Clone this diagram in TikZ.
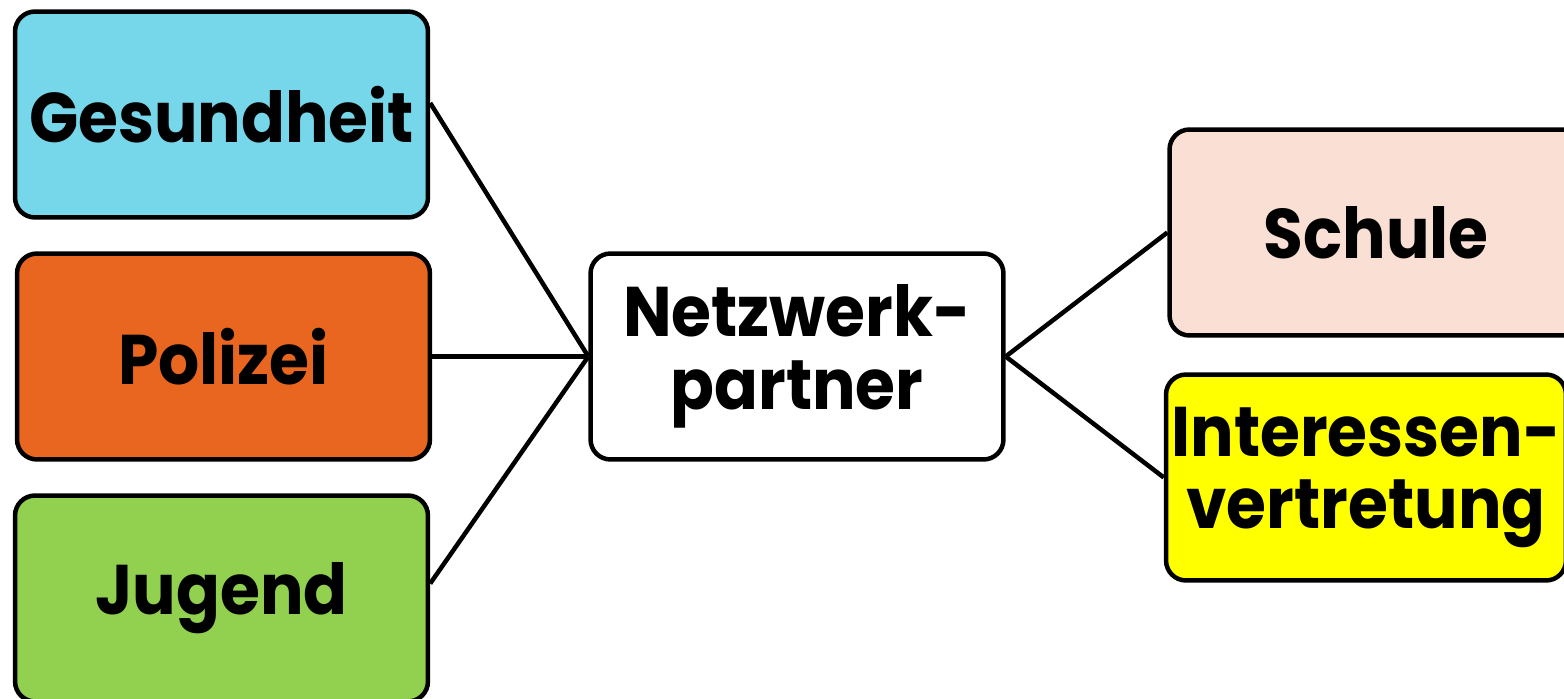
\documentclass[tikz,border=0pt]{standalone}
\usepackage{fontspec}
\setmainfont{Poppins}[FakeStretch=0.92]
\usepackage{xcolor}
\usepackage{tikz}

\definecolor{gesblue}{HTML}{76D6EA}
\definecolor{polorange}{HTML}{E8661F}
\definecolor{juggreen}{HTML}{92D050}
\definecolor{schpeach}{HTML}{FAE0D4}
\definecolor{intyellow}{HTML}{FFFF00}

\begin{document}
\begin{tikzpicture}[x=0.02cm, y=-0.02cm,
  box/.style={draw, line width=0.09cm, rounded corners=0.4cm,
    minimum width=8.26cm, minimum height=4.12cm, inner xsep=0pt,
    align=center, font=\fontsize{40}{41.5}\selectfont\bfseries},
  link/.style={line width=0.09cm}]
\clip (0,0) rectangle (1564,699);
\node[box, fill=gesblue] (ges) at (221.5, 114.5) {Gesundheit};
\node[box, fill=polorange] (pol) at (223.5, 356.5) {Polizei};
\node[box, fill=juggreen] (jug) at (221.5, 598.5) {Jugend};
\node[box, fill=white] (netz) at (797, 356.5) {Netzwerk-\\partner};
\node[box, fill=schpeach] (sch) at (1376, 232.5) {Schule};
\node[box, fill=intyellow, minimum width=8cm] (int) at (1366, 477.5)
  {Interessen-\\vertretung};
\draw[link] ([yshift=0.23cm]ges.east) -- (netz.west);
\draw[link] (pol.east) -- (netz.west);
\draw[link] ([yshift=0.3cm]jug.east) -- (netz.west);
\draw[link] (netz.east) -- (sch.west);
\draw[link] (netz.east) -- (int.west);
\end{tikzpicture}
\end{document}
